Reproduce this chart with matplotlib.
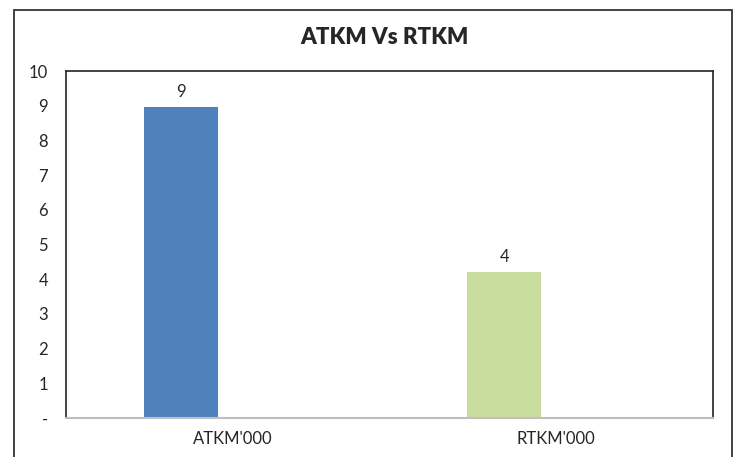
import matplotlib
matplotlib.use("Agg")
import matplotlib.pyplot as plt
from matplotlib.patches import Rectangle

categories = ["ATKM'000", "RTKM'000"]
values = [8.96, 4.22]
colors = ["#4F81BD", "#C8DC9E"]
yticks = [0, 1, 2, 3, 4, 5, 6, 7, 8, 9, 10]
ytick_labels = ["-", "1", "2", "3", "4", "5", "6", "7", "8", "9", "10"]
title = "ATKM Vs RTKM"

plt.rcParams['font.family'] = ['Lato', 'DejaVu Sans']

fig = plt.figure(figsize=(7.35, 4.57), dpi=100)
ax = fig.add_axes([66/735, 1-418/457, (713-66)/735, (418-71)/457])

x = list(range(len(categories)))
offset = -0.145
width = 0.228
bars = ax.bar([xi + offset for xi in x], values, width=width, color=colors, zorder=2)
for b, v in zip(bars, values):
    ax.text(b.get_x() + b.get_width()/2, v + 0.2, f"{round(v):d}",
            ha='center', va='bottom', fontsize=12, color='#262626')

ax.set_xlim(-0.5, len(categories) - 0.5)
ax.set_ylim(0, 10)
ax.set_yticks(yticks)
ax.set_yticklabels(ytick_labels, fontsize=12, color='#262626')
ax.set_xticks([xi + 0.015 for xi in x])
ax.set_xticklabels(categories, fontsize=12, color='#262626')
ax.tick_params(axis='y', length=0, pad=13)
ax.tick_params(axis='x', length=0, pad=9)

for s in ['left', 'top', 'right']:
    ax.spines[s].set_color('#222222')
    ax.spines[s].set_linewidth(1.2)
ax.spines['bottom'].set_color('#BFBFBF')
ax.spines['bottom'].set_linewidth(1.5)

fig.text(384/735, 1-38/457, title, ha='center', va='center',
         fontsize=16, fontweight='heavy', color='#262626')

frame = Rectangle((14/735, -0.05), (732-14)/735, 1-10/457+0.05,
                  transform=fig.transFigure, fill=False,
                  edgecolor='#333333', linewidth=1.3)
fig.patches.append(frame)

fig.savefig("out.png", dpi=100)
